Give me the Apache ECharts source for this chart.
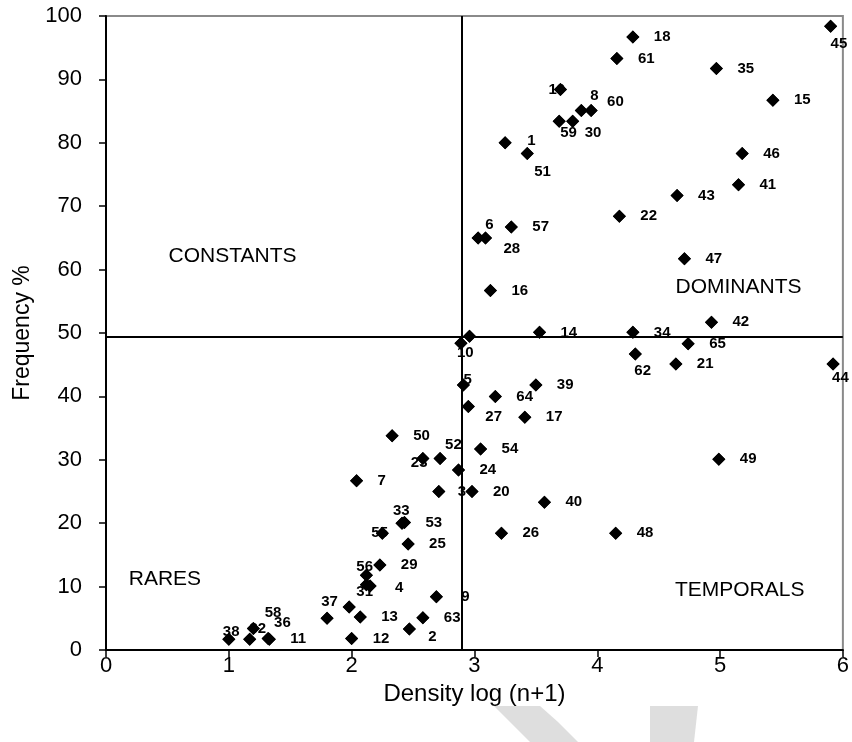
<!DOCTYPE html>
<html lang="en">
<head>
<meta charset="UTF-8">
<title>density / frequency</title>
<script src="https://cdn.jsdelivr.net/npm/echarts@6/dist/echarts.min.js"></script>
<style>
    html, body { margin: 0; padding: 0; background: #fff; }
    .demo { width: 852px; height: 742px; }
</style>
</head>
<body>
<div class="demo" id="box"></div>
<script>
// species number, density log(n+1), frequency %
var ids = ['1','2','3','4','5','6','7','8','9','10',
           '11','12','13','14','15','16','17','18','19','20',
           '21','22','23','24','25','26','27','28','29','30',
           '31','32','33','34','35','36','37','38','39','40',
           '41','42','43','44','45','46','47','48','49','50',
           '51','52','53','54','55','56','57','58','59','60',
           '61','62','63','64','65','',''];
var density = [3.25,2.47,2.71,2.15,2.91,3.03,2.04,3.87,2.69,2.89,
               1.33,2.00,2.07,3.53,5.43,3.13,3.41,4.29,3.70,2.98,
               4.64,4.18,2.58,2.87,2.46,3.22,2.95,3.09,2.23,3.80,
               2.12,1.20,2.41,4.29,4.97,1.32,1.98,1.00,3.50,3.57,
               5.15,4.93,4.65,5.92,5.90,5.18,4.71,4.15,4.99,2.33,
               3.43,2.72,2.43,3.05,2.25,2.12,3.30,1.17,3.69,3.95,
               4.16,4.31,2.58,3.17,4.74,2.96,1.80];
var frequency = [80.0,3.3,25.0,10.1,41.8,65.0,26.7,85.1,8.4,48.4,
                 1.7,1.8,5.2,50.1,86.7,56.7,36.7,96.7,88.4,25.0,
                 45.1,68.4,30.2,28.4,16.7,18.4,38.4,65.0,13.4,83.4,
                 10.3,3.4,20.0,50.1,91.7,1.8,6.8,1.7,41.8,23.3,
                 73.4,51.7,71.7,45.1,98.4,78.3,61.7,18.4,30.1,33.8,
                 78.3,30.2,20.1,31.7,18.4,11.8,66.7,1.7,83.4,85.1,
                 93.3,46.7,5.1,40.0,48.3,49.5,5.0];

// limits between the four groups
var densityCut = 2.9;
var frequencyCut = 49.4;

var groupNames = ['CONSTANTS', 'DOMINANTS', 'RARES', 'TEMPORALS'];
var groupX = [1.03, 5.15, 0.48, 5.16];
var groupY = [62.1, 57.2, 11.1, 9.5];

// where each number sits next to its point (px from the centre), default is to the right
var labelShift = {
    '45': [0, 18], '19': [-12, 0], '8': [9, -15], '60': [16, -9], '59': [1, 12],
    '30': [12, 12], '1': [22, -2], '51': [7, 18], '6': [7, -13], '28': [18, 11],
    '10': [-4, 10], '62': [-1, 17], '44': [-1, 14], '5': [0, -5], '27': [17, 10],
    '52': [5, -14], '23': [-12, 4], '3': [19, 0], '33': [-9, -12], '55': [-11, 0],
    '56': [-10, -8], '31': [-10, 7], '4': [25, 2], '9': [25, 0], '37': [-28, -5],
    '2': [19, 8], '36': [6, -16], '58': [15, -26], '32': [-4, 0], '38': [-6, -7]
};

var points = ids.map(function (id, i) {
    return {
        name: id,
        value: [density[i], frequency[i]],
        label: { offset: labelShift[id] || [21, 0] }
    };
});
var groups = groupNames.map(function (n, i) {
    return { name: n, value: [groupX[i], groupY[i]] };
});

var myChart = echarts.init(document.getElementById('box'));
var option = {
    backgroundColor: '#fff',
    animation: false,
    grid: {
        left: 106, right: 9, top: 16, bottom: 92,
        show: true,
        borderColor: '#8a8a8a',
        borderWidth: 2
    },
    xAxis: {
        type: 'value',
        min: 0, max: 6, interval: 1,
        name: 'Density log (n+1)',
        nameLocation: 'middle',
        nameGap: 25,
        nameTextStyle: { fontFamily: 'Liberation Sans Narrow, Liberation Sans', fontSize: 24, color: '#000' },
        axisLine: { lineStyle: { color: '#000', width: 2 } },
        axisTick: { show: true, length: 7, inside: false, lineStyle: { color: '#000', width: 1.5 } },
        axisLabel: { margin: 5, fontFamily: 'Liberation Sans', fontSize: 22, color: '#000' },
        splitLine: { show: false }
    },
    yAxis: {
        type: 'value',
        min: 0, max: 100, interval: 10,
        name: 'Frequency %',
        nameLocation: 'middle',
        nameGap: 70,
        nameTextStyle: { fontFamily: 'Liberation Sans Narrow, Liberation Sans', fontSize: 23, color: '#000' },
        axisLine: { lineStyle: { color: '#000', width: 2 } },
        axisTick: { show: true, length: 7, inside: false, lineStyle: { color: '#000', width: 1.5 } },
        axisLabel: { margin: 24, fontFamily: 'Liberation Sans', fontSize: 22, color: '#000' },
        splitLine: { show: false }
    },
    graphic: [
        { // grey watermark pieces under the x axis title
            type: 'polygon', z: -10, silent: true,
            shape: { points: [[494, 706], [540, 706], [558, 722], [578, 742], [530, 742], [512, 724]] },
            style: { fill: '#dedede' }
        },
        {
            type: 'polygon', z: -10, silent: true,
            shape: { points: [[650, 706], [698, 706], [694, 742], [650, 742]] },
            style: { fill: '#dedede' }
        }
    ],
    series: [
        {
            type: 'scatter',
            z: 2,
            symbol: 'diamond',
            symbolSize: 13,
            itemStyle: { color: '#000', opacity: 1 },
            label: {
                show: true,
                position: 'inside',
                align: 'left',
                verticalAlign: 'middle',
                formatter: '{b}',
                fontFamily: 'Liberation Sans',
                fontWeight: 'bold',
                fontSize: 15,
                color: '#000'
            },
            data: points,
            markLine: {
                silent: true,
                symbol: 'none',
                label: { show: false },
                lineStyle: { color: '#000', width: 2, type: 'solid' },
                data: [{ xAxis: densityCut }, { yAxis: frequencyCut }]
            }
        },
        {
            // second pass of the diamonds so they sit over the numbers like in Excel
            type: 'scatter',
            z: 3,
            silent: true,
            symbol: 'diamond',
            symbolSize: 13,
            itemStyle: { color: '#000', opacity: 1 },
            label: { show: false },
            data: points
        },
        {
            type: 'scatter',
            z: 4,
            silent: true,
            symbolSize: 0,
            itemStyle: { opacity: 1 },
            label: {
                show: true,
                position: 'inside',
                formatter: '{b}',
                fontFamily: 'Liberation Sans',
                fontSize: 21,
                color: '#000'
            },
            data: groups
        }
    ]
};
myChart.setOption(option);
</script>
</body>
</html>
